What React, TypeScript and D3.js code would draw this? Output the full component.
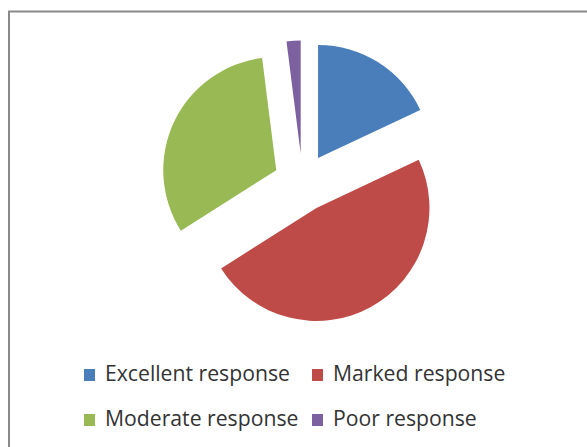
import React, { useEffect, useRef } from "react";
import * as d3 from "d3";

const categories = ["Excellent response", "Marked response", "Moderate response", "Poor response"];
const values = [18, 48, 32, 2];
const colors = ["#4A7EBB", "#BE4B48", "#98B954", "#7D60A0"];

const W = 587;
const H = 447;

export default function App() {
  const ref = useRef<SVGSVGElement | null>(null);

  useEffect(() => {
    const svg = d3.select(ref.current);
    svg.selectAll("*").remove();

    svg
      .append("rect")
      .attr("x", 9)
      .attr("y", 11.5)
      .attr("width", 700)
      .attr("height", 600)
      .attr("fill", "#fff")
      .attr("stroke", "#8a8a8a")
      .attr("stroke-width", 2);

    const cx = 302.5;
    const cy = 182.5;
    const r = 113;
    const explode = 29;

    const pie = d3
      .pie<number>()
      .sort(null)
      .startAngle(0)
      .endAngle(2 * Math.PI)
      .value((d) => d);
    const arcs = pie(values);
    const arc = d3.arc<d3.PieArcDatum<number>>().innerRadius(0).outerRadius(r);

    const g = svg.append("g").attr("transform", `translate(${cx},${cy})`);
    g.selectAll("path")
      .data(arcs)
      .join("path")
      .attr("d", arc)
      .attr("fill", (_d, i) => colors[i])
      .attr("transform", (d) => {
        const mid = (d.startAngle + d.endAngle) / 2;
        return `translate(${explode * Math.sin(mid)},${-explode * Math.cos(mid)})`;
      });

    const legendPos = [
      { sx: 84, ty: 381 },
      { sx: 312, ty: 381 },
      { sx: 84, ty: 426 },
      { sx: 312, ty: 426 },
    ];
    const lg = svg.append("g");
    categories.forEach((c, i) => {
      const p = legendPos[i];
      lg.append("rect")
        .attr("x", p.sx)
        .attr("y", p.ty - 12)
        .attr("width", 11)
        .attr("height", 12)
        .attr("fill", colors[i]);
      lg.append("text")
        .attr("x", p.sx + 21)
        .attr("y", p.ty)
        .attr("font-family", "Open Sans")
        .attr("font-size", 21.2)
        .attr("fill", "#333333")
        .text(c);
    });
  }, []);

  return (
    <svg
      ref={ref}
      width={W}
      height={H}
      style={{ position: "absolute", left: 0, top: 0, background: "#fff" }}
    />
  );
}
